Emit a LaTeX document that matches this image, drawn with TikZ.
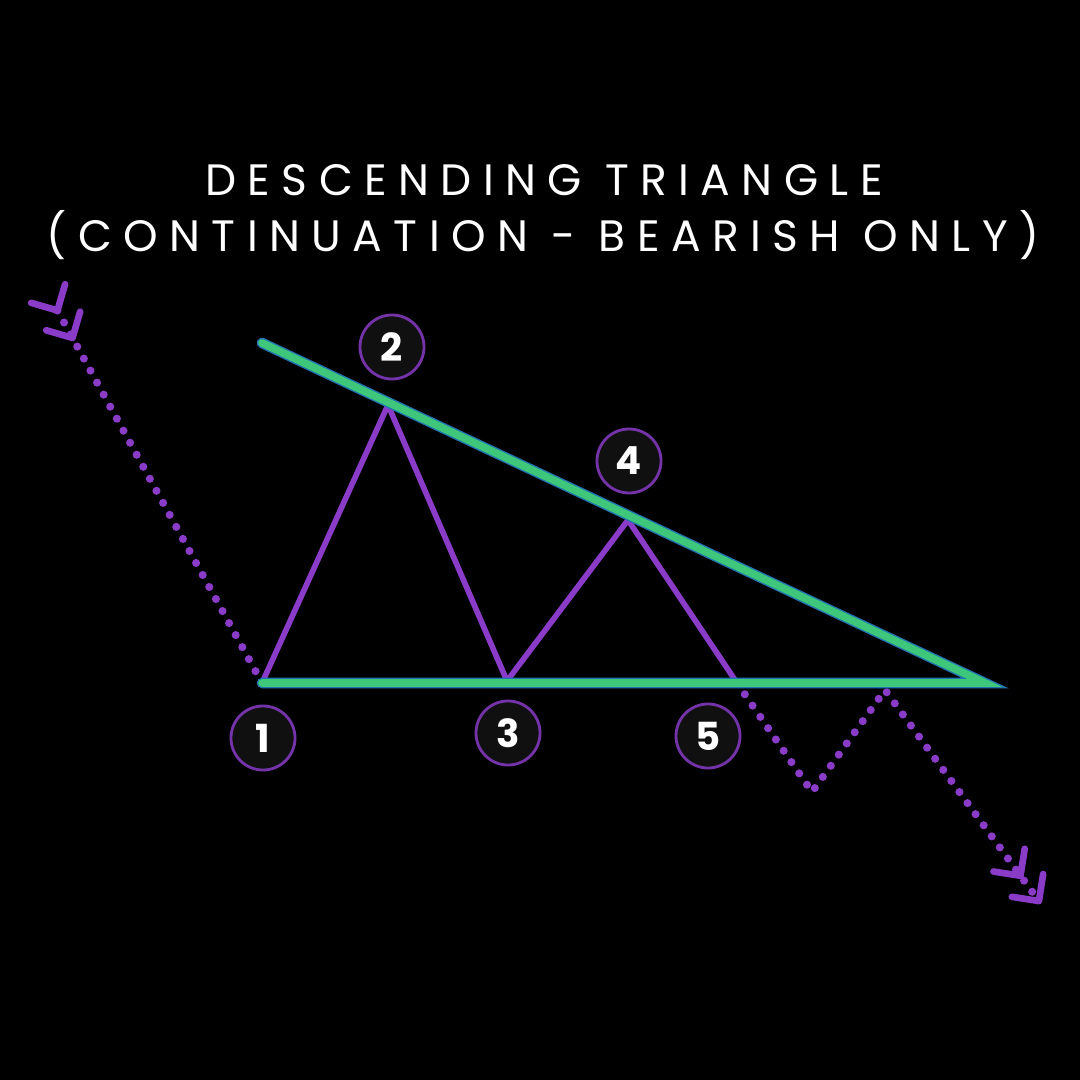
\documentclass[tikz,border=0pt]{standalone}
\usepackage{fontspec}
\setmainfont{Poppins}
\newfontfamily\titlefont[LetterSpace=26]{Poppins}
\usetikzlibrary{arrows.meta}
\definecolor{swingpurple}{HTML}{8A3CC8}
\definecolor{trendgreen}{HTML}{3EC67A}
\definecolor{trendrim}{HTML}{1F74B0}
\definecolor{badgefill}{HTML}{101010}
\tikzset{chev/.tip={Straight Barb[length=5.5pt, width=11pt, line width=1.9pt, round, sep=1.5pt]}}

\begin{document}
\begin{tikzpicture}[x=0.01cm, y=-0.01cm,
  trend/.style={draw=trendgreen, line width=2.2pt, line cap=round},
  trendrim/.style={draw=trendrim, line width=3.0pt, line cap=round},
  swing/.style={draw=swingpurple, line width=1.6pt, line join=miter},
  dots/.style={draw=swingpurple, line width=2.3pt, line cap=round,
               dash pattern=on 0pt off 3.9pt},
  badge/.style={circle, draw=swingpurple!85!black, fill=badgefill, line width=0.8pt,
                minimum size=0.64cm, inner sep=0pt, text=white,
                font=\bfseries\fontsize{11}{12}\selectfont},
  hdr/.style={text=white, inner sep=0pt, font=\titlefont\fontsize{12.5}{14}\selectfont},
]

\fill[black] (0,0) rectangle (1080,1080);

\node[hdr] (title1) at (544,180) {DESCENDING TRIANGLE};
\node[hdr] (title2) at (543,235) {(CONTINUATION - BEARISH ONLY)};

% swing points
\coordinate (p1) at (262,683);
\coordinate (p2) at (388,405);
\coordinate (p3) at (507,681);
\coordinate (p4) at (628,520);
\coordinate (p5) at (737,683);

% trend lines
\coordinate (topstart) at (262,343);
\coordinate (apex)     at (985,683);

% dotted moves in and out
\coordinate (entry)  at (44,286);
\coordinate (dip)    at (812,792);
\coordinate (retest) at (885,690);
\coordinate (exit)   at (1044,908);

\draw[dots, {chev[reversed]chev[reversed]}-] (entry) -- (p1);
\draw[dots, -{chev[]chev[]}] (p5) -- (dip) -- (retest) -- (exit);

\draw[swing] (p1) -- (p2) -- (p3) -- (p4) -- (p5);

\draw[trendrim] (topstart) -- (apex) -- (p1);
\draw[trend]    (topstart) -- (apex) -- (p1);

\node[badge] (n1) at (263,738) {1};
\node[badge] (n2) at (392,347) {2};
\node[badge] (n3) at (508,733) {3};
\node[badge] (n4) at (629,461) {4};
\node[badge] (n5) at (708,736) {5};

\end{tikzpicture}
\end{document}
